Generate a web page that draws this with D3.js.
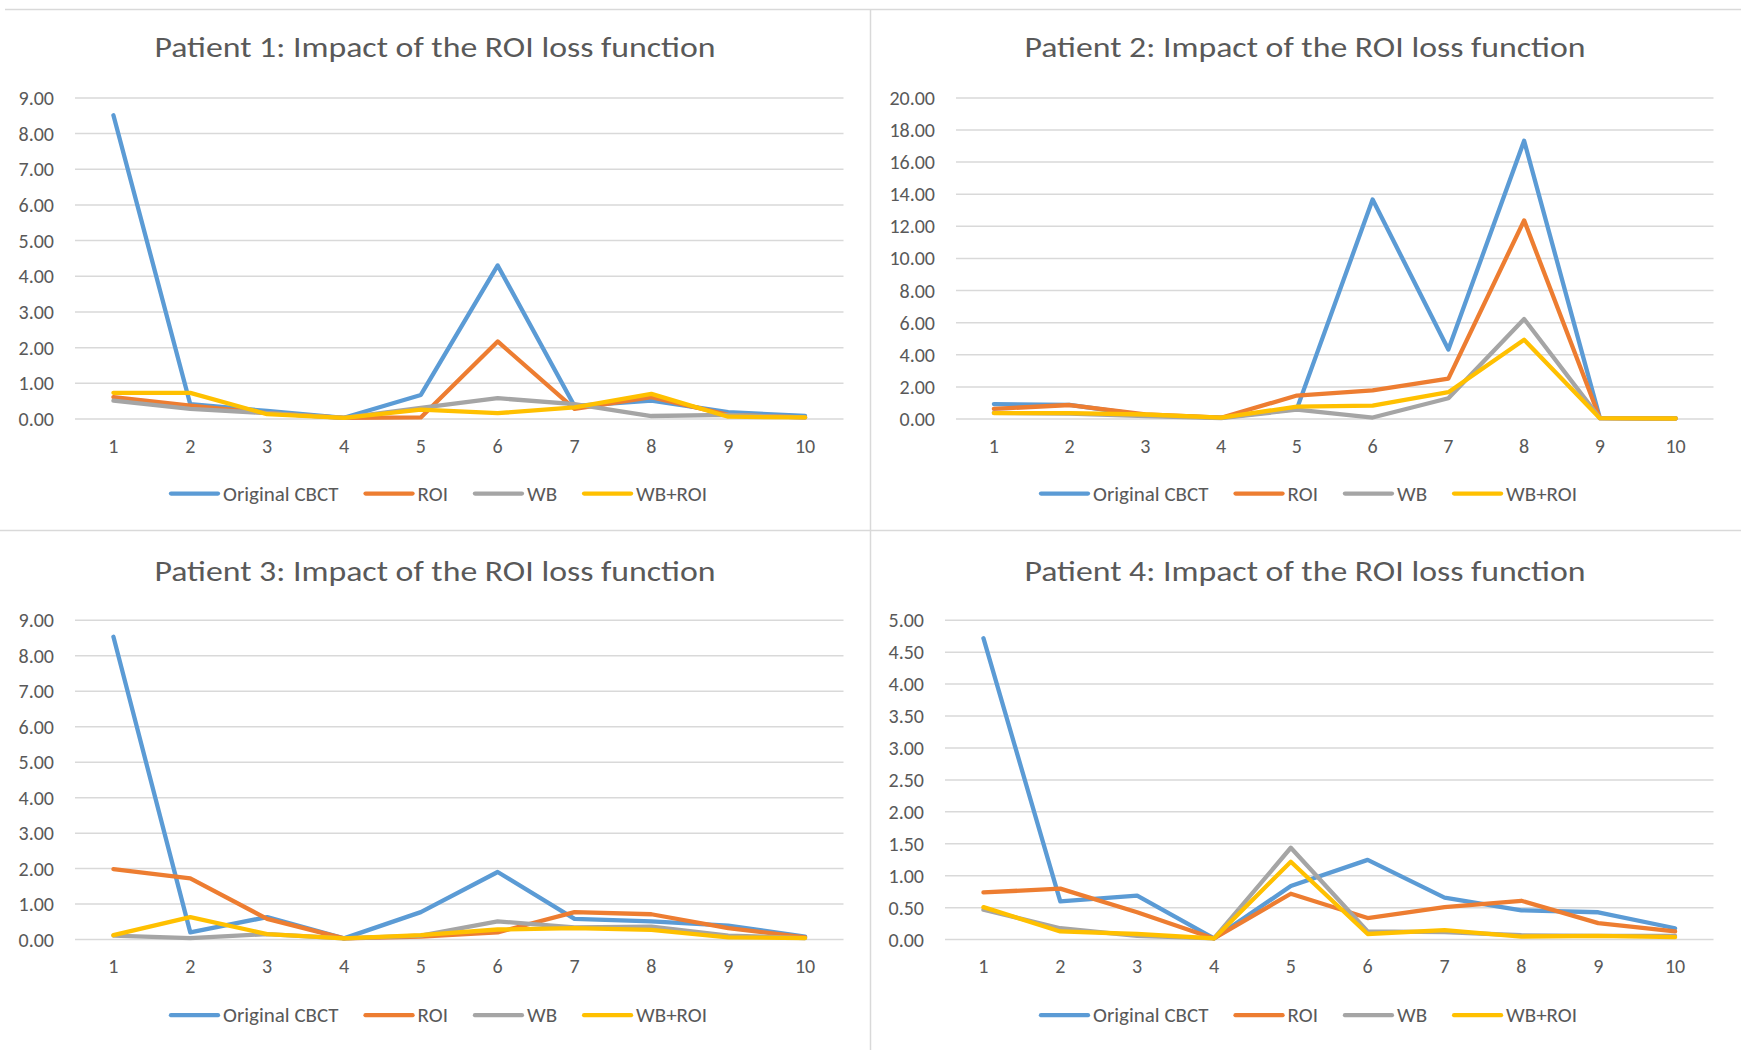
<!DOCTYPE html>
<html>
<head>
<meta charset="utf-8">
<script src="https://cdn.jsdelivr.net/npm/d3@7"></script>
<style>
  body { margin: 0; background: #fff; }
  svg text { font-family: Calibri, Carlito, Lato, sans-serif; fill: #595959; }
</style>
</head>
<body>
<div id="chart"></div>
<script>
// 1: DATA
const categories = [1, 2, 3, 4, 5, 6, 7, 8, 9, 10];
const seriesNames = ["Original CBCT", "ROI", "WB", "WB+ROI"];
const seriesColors = ["#5B9BD5", "#ED7D31", "#A5A5A5", "#FFC000"];
const titles = [
    "Patient 1: Impact of the ROI loss function",
    "Patient 2: Impact of the ROI loss function",
    "Patient 3: Impact of the ROI loss function",
    "Patient 4: Impact of the ROI loss function"
];
const yMax = [9, 20, 9, 5];
const yStep = [1, 2, 1, 0.5];

// patient 1
const p1Cbct  = [8.50, 0.40, 0.21, 0.02, 0.66, 4.29, 0.35, 0.50, 0.18, 0.07];
const p1Roi   = [0.60, 0.36, 0.15, 0.02, 0.03, 2.16, 0.27, 0.60, 0.10, 0.03];
const p1Wb    = [0.50, 0.27, 0.15, 0.02, 0.30, 0.57, 0.40, 0.07, 0.10, 0.03];
const p1WbRoi = [0.72, 0.72, 0.12, 0.02, 0.25, 0.15, 0.31, 0.69, 0.05, 0.03];
// patient 2
const p2Cbct  = [0.90, 0.85, 0.20, 0.05, 0.60, 13.64, 4.30, 17.30, 0.02, 0.00];
const p2Roi   = [0.60, 0.84, 0.25, 0.05, 1.43, 1.75, 2.48, 12.34, 0.02, 0.00];
const p2Wb    = [0.35, 0.30, 0.15, 0.02, 0.55, 0.06, 1.26, 6.20, 0.02, 0.00];
const p2WbRoi = [0.34, 0.34, 0.25, 0.05, 0.74, 0.80, 1.64, 4.90, 0.02, 0.00];
// patient 3
const p3Cbct  = [8.52, 0.19, 0.62, 0.02, 0.76, 1.89, 0.57, 0.50, 0.38, 0.07];
const p3Roi   = [1.97, 1.71, 0.57, 0.02, 0.07, 0.19, 0.76, 0.70, 0.31, 0.05];
const p3Wb    = [0.10, 0.03, 0.14, 0.02, 0.10, 0.50, 0.33, 0.35, 0.10, 0.03];
const p3WbRoi = [0.11, 0.62, 0.14, 0.02, 0.11, 0.27, 0.31, 0.26, 0.05, 0.03];
// patient 4
const p4Cbct  = [4.71, 0.59, 0.68, 0.01, 0.83, 1.24, 0.65, 0.45, 0.42, 0.17];
const p4Roi   = [0.73, 0.79, 0.42, 0.01, 0.71, 0.33, 0.50, 0.60, 0.25, 0.12];
const p4Wb    = [0.46, 0.17, 0.05, 0.01, 1.43, 0.12, 0.11, 0.06, 0.05, 0.05];
const p4WbRoi = [0.50, 0.12, 0.08, 0.01, 1.21, 0.08, 0.14, 0.04, 0.05, 0.03];

const patientSeries = [
    [p1Cbct, p1Roi, p1Wb, p1WbRoi],
    [p2Cbct, p2Roi, p2Wb, p2WbRoi],
    [p3Cbct, p3Roi, p3Wb, p3WbRoi],
    [p4Cbct, p4Roi, p4Wb, p4WbRoi]
];

// 2: LAYOUT
const W = 1741, H = 1056;
const panels = [
    { left: 75,  right: 843.5,  top: 97.4,  bottom: 418.5, titleY: 47.3,  xLabY: 445.6, legY: 493.6,  cx: 435 },
    { left: 956, right: 1713.5, top: 97.4,  bottom: 418.5, titleY: 47.3,  xLabY: 445.6, legY: 493.6,  cx: 1305 },
    { left: 75,  right: 843.5,  top: 619.7, bottom: 939.1, titleY: 570.6, xLabY: 966,   legY: 1015.2, cx: 435 },
    { left: 945, right: 1713.5, top: 619.7, bottom: 939.1, titleY: 570.6, xLabY: 966,   legY: 1015.2, cx: 1305 }
];

const svg = d3.select("#chart")
    .append("svg")
    .attr("width", W)
    .attr("height", H);

// separators between the four charts
svg.append("line").attr("x1", 5).attr("x2", W).attr("y1", 9.5).attr("y2", 9.5)
    .attr("stroke", "#d9d9d9").attr("stroke-width", 1.5);
svg.append("line").attr("x1", 0).attr("x2", W).attr("y1", 530.5).attr("y2", 530.5)
    .attr("stroke", "#d9d9d9").attr("stroke-width", 1.5);
svg.append("line").attr("x1", 870.5).attr("x2", 870.5).attr("y1", 9).attr("y2", 1050)
    .attr("stroke", "#d9d9d9").attr("stroke-width", 1.5);

// 3: DRAW EACH PANEL
panels.forEach((p, i) => {
    const g = svg.append("g");

    const x = d3.scalePoint()
        .domain(categories)
        .range([p.left, p.right])
        .padding(0.5);

    const y = d3.scaleLinear()
        .domain([0, yMax[i]])
        .range([p.bottom, p.top]);

    const ticks = d3.range(0, yMax[i] + yStep[i] / 2, yStep[i]);

    // gridlines + y labels
    const yAxis = g.append("g")
        .attr("transform", `translate(${p.left},0)`)
        .call(d3.axisLeft(y)
            .tickValues(ticks)
            .tickFormat(d3.format(".2f"))
            .tickSize(-(p.right - p.left))
            .tickPadding(21));
    yAxis.select(".domain").remove();
    yAxis.selectAll(".tick line").attr("stroke", "#d9d9d9").attr("stroke-width", 1.5);
    yAxis.selectAll(".tick text")
        .attr("fill", "#595959")
        .style("font-size", "20px")
        .attr("dy", "0.35em");

    // x labels
    g.selectAll(".xlab")
        .data(categories)
        .join("text")
        .attr("class", "xlab")
        .attr("x", d => x(d))
        .attr("y", p.xLabY)
        .attr("text-anchor", "middle")
        .attr("dominant-baseline", "central")
        .style("font-size", "20px")
        .text(d => d);

    // lines
    const line = d3.line()
        .x((d, j) => x(categories[j]))
        .y(d => y(d));

    patientSeries[i].forEach((vals, s) => {
        g.append("path")
            .datum(vals)
            .attr("d", line)
            .attr("fill", "none")
            .attr("stroke", seriesColors[s])
            .attr("stroke-width", 4.3)
            .attr("stroke-linejoin", "round")
            .attr("stroke-linecap", "round");
    });

    // title
    g.append("text")
        .attr("x", p.cx)
        .attr("y", p.titleY)
        .attr("text-anchor", "middle")
        .attr("dominant-baseline", "central")
        .style("font-size", "29px")
        .attr("textLength", 561)
        .attr("lengthAdjust", "spacingAndGlyphs")
        .text(titles[i]);

    // legend
    const leg = g.append("g");
    let lx = 0;
    seriesNames.forEach((name, s) => {
        leg.append("line")
            .attr("x1", lx).attr("x2", lx + 47)
            .attr("y1", 0).attr("y2", 0)
            .attr("stroke", seriesColors[s])
            .attr("stroke-width", 4.3)
            .attr("stroke-linecap", "round");
        const t = leg.append("text")
            .attr("x", lx + 52)
            .attr("y", 0)
            .attr("dominant-baseline", "central")
            .style("font-size", "21px")
            .text(name);
        lx += 52 + t.node().getComputedTextLength() + 27;
    });
    const legW = lx - 27;
    leg.attr("transform", `translate(${p.cx + 4 - legW / 2},${p.legY})`);
});
</script>
</body>
</html>
